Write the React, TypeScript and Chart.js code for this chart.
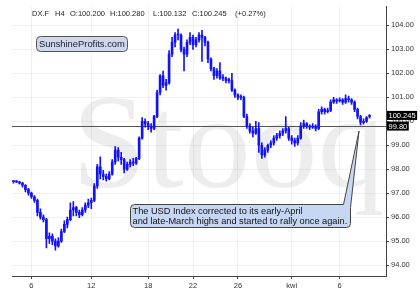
import React, { useEffect, useRef } from "react";
import { Chart, registerables } from "chart.js";

Chart.register(...registerables);

// ---- data (DX.F, 4-hour bars) ----
const opens = [
  97.48, 97.5, 97.47, 97.42, 97.33, 97.15, 97.0, 96.85, 96.7, 96.2,
  96.0, 95.9, 95.1, 95.2, 95.0, 94.8, 95.0, 95.4, 95.7, 95.9,
  96.3, 96.4, 96.2, 96.1, 96.3, 96.5, 96.6, 96.7, 97.3, 98.1,
  97.8, 97.7, 97.6, 97.8, 98.3, 98.8, 98.5, 98.4, 98.0, 98.2,
  98.3, 98.25, 98.45, 99.3, 100.0, 99.9, 99.8, 99.7, 100.2, 101.2,
  101.9, 101.5, 101.6, 102.8, 103.3, 103.6, 103.6, 103.0, 102.8, 103.3,
  103.5, 103.2, 103.4, 103.6, 103.5, 103.3, 102.6, 102.2, 101.9, 102.1,
  101.8, 101.8, 101.7, 101.7, 101.3, 101.1, 101.0, 101.0, 100.2, 99.8,
  99.6, 99.5, 99.7, 99.0, 98.6, 98.8, 99.0, 99.1, 99.3, 99.4,
  99.5, 99.6, 99.7, 99.3, 99.2, 99.1, 99.3, 99.8, 99.9, 99.8,
  99.75, 99.8, 99.7, 100.4, 100.5, 100.4, 100.45, 100.8, 100.9, 100.85,
  100.9, 100.8, 100.95, 100.9, 100.8, 100.5, 100.2, 99.95, 100.0, 100.2,
];
const highs = [
  97.52, 97.53, 97.5, 97.45, 97.36, 97.2, 97.05, 96.9, 96.75, 96.35,
  96.1, 95.95, 95.35, 95.3, 95.1, 95.15, 95.5, 95.85, 96.0, 96.6,
  96.65, 96.45, 96.3, 96.4, 96.6, 96.75, 96.8, 97.4, 98.2, 98.52,
  97.95, 97.8, 97.9, 98.4, 98.95, 98.9, 98.7, 98.45, 98.3, 98.4,
  98.45, 98.5, 99.35, 100.15, 100.1, 100.0, 99.9, 100.25, 101.3, 101.95,
  102.1, 101.75, 102.95, 103.5, 103.7, 103.85, 103.65, 103.1, 103.4, 103.7,
  103.6, 103.5, 103.7, 103.8, 103.55, 103.35, 102.65, 102.25, 102.2, 102.45,
  101.95, 101.85, 101.8, 102.0, 101.35, 101.15, 101.1, 101.05, 100.3, 99.9,
  99.75, 100.0, 99.95, 99.1, 98.9, 99.05, 99.2, 99.4, 99.5, 99.6,
  99.7, 100.2, 99.75, 99.4, 99.3, 99.4, 99.95, 100.05, 99.95, 99.85,
  99.9, 99.85, 100.5, 100.6, 100.55, 100.55, 100.9, 101.0, 100.95, 100.98,
  100.95, 101.1, 101.05, 100.95, 100.85, 100.55, 100.25, 100.1, 100.2, 100.28,
];
const lows = [
  97.42, 97.44, 97.38, 97.25, 97.05, 96.92, 96.78, 96.62, 96.05, 95.92,
  95.8, 94.72, 94.9, 94.85, 94.62, 94.75, 94.95, 95.35, 95.55, 95.85,
  96.05, 96.05, 95.98, 96.05, 96.2, 96.4, 96.35, 96.65, 97.2, 97.6,
  97.55, 97.5, 97.55, 97.75, 98.2, 98.35, 98.2, 97.85, 97.95, 98.1,
  98.15, 98.2, 98.4, 99.25, 99.75, 99.65, 99.55, 99.65, 100.15, 101.1,
  101.4, 101.3, 101.55, 102.7, 103.1, 103.4, 102.9, 102.1, 102.7, 103.2,
  103.0, 103.1, 103.3, 102.5, 103.15, 102.45, 102.1, 101.75, 101.8, 101.75,
  101.7, 101.6, 101.6, 101.25, 101.0, 100.9, 100.9, 100.15, 99.7, 99.5,
  99.35, 99.45, 98.7, 98.45, 98.5, 98.7, 98.9, 99.0, 99.2, 99.3,
  99.4, 99.5, 99.2, 99.05, 98.95, 99.0, 99.25, 99.7, 99.7, 99.65,
  99.7, 99.6, 99.65, 100.3, 100.3, 100.35, 100.4, 100.75, 100.75, 100.8,
  100.7, 100.75, 100.8, 100.7, 100.4, 100.1, 99.85, 99.88, 99.95, 100.132,
];
const closes = [
  97.5, 97.47, 97.42, 97.33, 97.15, 97.0, 96.85, 96.7, 96.2, 96.0,
  95.9, 95.1, 95.2, 95.0, 94.8, 95.0, 95.4, 95.7, 95.9, 96.3,
  96.4, 96.2, 96.1, 96.3, 96.5, 96.6, 96.7, 97.3, 98.1, 97.8,
  97.7, 97.6, 97.8, 98.3, 98.8, 98.5, 98.4, 98.0, 98.2, 98.3,
  98.25, 98.45, 99.3, 100.0, 99.9, 99.8, 99.7, 100.2, 101.2, 101.9,
  101.5, 101.6, 102.8, 103.3, 103.6, 103.6, 103.0, 102.8, 103.3, 103.5,
  103.2, 103.4, 103.6, 103.5, 103.3, 102.6, 102.2, 101.9, 102.1, 101.8,
  101.8, 101.7, 101.7, 101.3, 101.1, 101.0, 101.0, 100.2, 99.8, 99.6,
  99.5, 99.7, 99.0, 98.6, 98.8, 99.0, 99.1, 99.3, 99.4, 99.5,
  99.6, 99.7, 99.3, 99.2, 99.1, 99.3, 99.8, 99.9, 99.8, 99.75,
  99.8, 99.7, 100.4, 100.5, 100.4, 100.45, 100.8, 100.9, 100.85, 100.9,
  100.8, 100.95, 100.9, 100.8, 100.5, 100.2, 99.95, 100.0, 100.15, 100.245,
];
const SLOT_COUNT = 125;
const tickIndexes = [6, 26, 45, 60, 75, 93, 109];
const tickLabels = ["6", "12", "18", "22", "26", "kwi", "6"];
const yTickValues = [94, 95, 96, 97, 98, 99, 100, 101, 102, 103, 104];
const yMin = 93.545;
const yMax = 104.79;
const supportLevel = 99.8;
const lastClose = 100.245;
const headerParts = ["DX.F", "H4", "O:100.200", "H:100.280", "L:100.132", "C:100.245", "(+0.27%)"];
const brandText = "SunshineProfits.com";
const noteLines = [
  "The USD Index corrected to its early-April",
  "and late-March highs and started to rally once again.",
];
const watermark = "Stooq";

const SANS = "'Liberation Sans', Arial, Helvetica, sans-serif";
const BLUE = "#1414f2";

function fitSize(ctx: CanvasRenderingContext2D, text: string, target: number, family: string) {
  ctx.font = `10px ${family}`;
  const w = ctx.measureText(text).width;
  return (10 * target) / w;
}

function roundRect(ctx: CanvasRenderingContext2D, x: number, y: number, w: number, h: number, r: number) {
  ctx.beginPath();
  ctx.moveTo(x + r, y);
  ctx.lineTo(x + w - r, y);
  ctx.arcTo(x + w, y, x + w, y + r, r);
  ctx.lineTo(x + w, y + h - r);
  ctx.arcTo(x + w, y + h, x + w - r, y + h, r);
  ctx.lineTo(x + r, y + h);
  ctx.arcTo(x, y + h, x, y + h - r, r);
  ctx.lineTo(x, y + r);
  ctx.arcTo(x, y, x + r, y, r);
  ctx.closePath();
}

const overlayPlugin = {
  id: "overlay",
  beforeDatasetsDraw(chart: any) {
    const { ctx, chartArea: a, scales } = chart;
    const y = scales.y;
    ctx.save();
    ctx.beginPath();
    ctx.rect(a.left, a.top, a.right - a.left, a.bottom - a.top);
    ctx.clip();
    ctx.fillStyle = "rgba(0,0,0,0.07)";
    ctx.font = "134px 'Liberation Serif', 'Times New Roman', serif";
    ctx.textBaseline = "alphabetic";
    ctx.textAlign = "left";
    ctx.fillText(watermark, 72, 187);
    ctx.restore();

    const yy = Math.round(y.getPixelForValue(supportLevel)) + 0.5;
    ctx.save();
    ctx.strokeStyle = "#555";
    ctx.lineWidth = 1;
    ctx.beginPath();
    ctx.moveTo(a.left, yy);
    ctx.lineTo(a.right, yy);
    ctx.stroke();
    ctx.restore();
  },
  afterDraw(chart: any) {
    const { ctx, chartArea: a, scales } = chart;
    const y = scales.y;
    ctx.save();

    // header
    const hx = [32, 55, 70, 110, 153, 192, 235];
    ctx.fillStyle = "#222";
    ctx.font = `7.5px ${SANS}`;
    ctx.textBaseline = "middle";
    ctx.textAlign = "left";
    headerParts.forEach((t, i) => ctx.fillText(t, hx[i], 14));

    // brand box
    roundRect(ctx, 36.5, 36.5, 91, 15, 4);
    ctx.fillStyle = "#cdd8ec";
    ctx.fill();
    ctx.strokeStyle = "#555";
    ctx.lineWidth = 1;
    ctx.stroke();
    const bs = fitSize(ctx, brandText, 86, SANS);
    ctx.font = `${bs}px ${SANS}`;
    ctx.fillStyle = "#1a1a2a";
    ctx.fillText(brandText, 39, 44.5);

    // annotation with pointer
    const bx = 130.5, by = 204.5, bw = 220, bh = 23, r = 4;
    const tipX = 359, tipY = 131;
    ctx.beginPath();
    ctx.moveTo(bx + r, by);
    ctx.lineTo(343.5, by);
    ctx.lineTo(tipX, tipY);
    ctx.lineTo(bx + bw, by + 3);
    ctx.lineTo(bx + bw, by + bh - r);
    ctx.arcTo(bx + bw, by + bh, bx + bw - r, by + bh, r);
    ctx.lineTo(bx + r, by + bh);
    ctx.arcTo(bx, by + bh, bx, by + bh - r, r);
    ctx.lineTo(bx, by + r);
    ctx.arcTo(bx, by, bx + r, by, r);
    ctx.closePath();
    ctx.fillStyle = "#c7d6f2";
    ctx.fill();
    ctx.strokeStyle = "#444";
    ctx.lineWidth = 1;
    ctx.stroke();
    const ns = fitSize(ctx, noteLines[1], 215, SANS);
    ctx.font = `${ns}px ${SANS}`;
    ctx.fillStyle = "#111";
    ctx.fillText(noteLines[0], 132.5, 211.5);
    ctx.fillText(noteLines[1], 132.5, 221.5);

    // value boxes on the right axis
    ctx.font = `7.5px ${SANS}`;
    const drawTag = (v: number, text: string) => {
      const cy = y.getPixelForValue(v);
      const w = ctx.measureText(text).width + 3;
      ctx.fillStyle = "#000";
      ctx.fillRect(a.right + 1, cy - 4.5, w, 9);
      ctx.fillStyle = "#fff";
      ctx.fillText(text, a.right + 2.5, cy + 0.5);
    };
    drawTag(lastClose, lastClose.toFixed(3));
    drawTag(supportLevel, supportLevel.toFixed(2));
    ctx.restore();
  },
};

export default function App() {
  const ref = useRef<HTMLCanvasElement | null>(null);

  useEffect(() => {
    if (!ref.current) return;
    const labels = Array.from({ length: SLOT_COUNT }, (_, i) => {
      const k = tickIndexes.indexOf(i);
      return k >= 0 ? tickLabels[k] : "";
    });
    const wickData = labels.map((_, i) => (i < highs.length ? [lows[i], highs[i]] : null));
    const bodyData = labels.map((_, i) => (i < opens.length ? [opens[i], closes[i]] : null));

    const isTick = (c: any) => !!(c && c.tick && c.tick.label);

    const chart = new Chart(ref.current, {
      type: "bar",
      data: {
        labels,
        datasets: [
          {
            data: wickData as any,
            backgroundColor: BLUE,
            barThickness: 1,
            grouped: false,
            borderSkipped: false,
          } as any,
          {
            data: bodyData as any,
            backgroundColor: BLUE,
            barThickness: 2,
            minBarLength: 1,
            grouped: false,
            borderSkipped: false,
          } as any,
        ],
      },
      options: {
        responsive: false,
        animation: false,
        devicePixelRatio: 1,
        layout: { padding: { left: 12, top: 5, right: 0, bottom: 0 } },
        plugins: { legend: { display: false }, tooltip: { enabled: false } },
        scales: {
          x: {
            type: "category",
            offset: true,
            border: { display: true, color: "#444" },
            grid: {
              offset: false,
              drawOnChartArea: true,
              color: (c: any) => (isTick(c) ? "rgba(0,0,0,0.06)" : "rgba(0,0,0,0)"),
              tickColor: (c: any) => (isTick(c) ? "#444" : "rgba(0,0,0,0)"),
              tickLength: 3,
            },
            ticks: {
              autoSkip: false,
              maxRotation: 0,
              minRotation: 0,
              padding: 2,
              color: "#333",
              font: { family: SANS, size: 7.5 },
            },
            afterFit: (s: any) => {
              s.height = 18;
            },
          },
          y: {
            type: "linear",
            position: "right",
            min: yMin,
            max: yMax,
            border: { display: true, color: "#444" },
            grid: {
              color: "rgba(0,0,0,0.06)",
              tickColor: "#444",
              tickLength: 3,
            },
            afterBuildTicks: (s: any) => {
              s.ticks = yTickValues.map((v) => ({ value: v }));
            },
            ticks: {
              padding: 2,
              color: "#333",
              font: { family: SANS, size: 7.5 },
              callback: (v: any) => Number(v).toFixed(2),
            },
            afterFit: (s: any) => {
              s.width = 34;
            },
          },
        },
      },
      plugins: [overlayPlugin],
    } as any);

    return () => chart.destroy();
  }, []);

  return (
    <div style={{ position: "absolute", left: 0, top: 0, width: 420, height: 294, background: "#fff" }}>
      <canvas ref={ref} width={420} height={294} style={{ width: 420, height: 294, display: "block" }} />
    </div>
  );
}
